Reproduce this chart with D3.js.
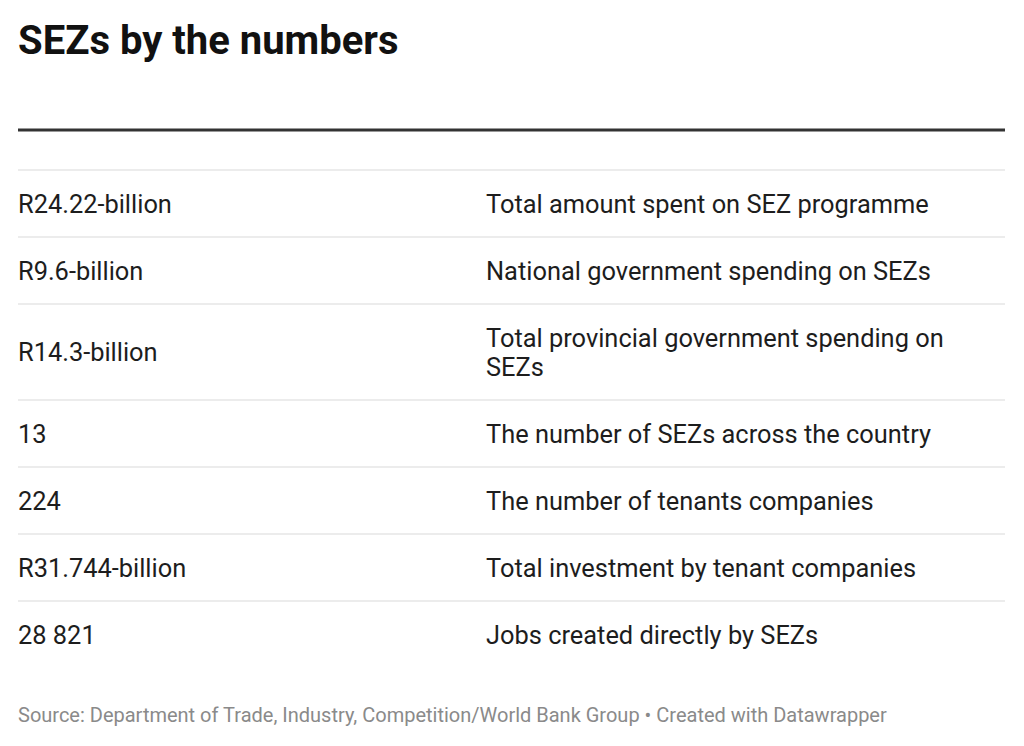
<!DOCTYPE html>
<html>
<head>
<meta charset="utf-8">
<script src="https://cdn.jsdelivr.net/npm/d3@7"></script>
<style>
  body { margin: 0; background: #fff; font-family: Roboto, sans-serif; }
</style>
</head>
<body>
<svg id="chart" width="1024" height="746"></svg>
<script>
// table data
var figures = ["R24.22-billion", "R9.6-billion", "R14.3-billion", "13", "224", "R31.744-billion", "28 821"];
var descriptions = [
  "Total amount spent on SEZ programme",
  "National government spending on SEZs",
  "Total provincial government spending on SEZs",
  "The number of SEZs across the country",
  "The number of tenants companies",
  "Total investment by tenant companies",
  "Jobs created directly by SEZs"
];
var title = "SEZs by the numbers";
var source = "Source: Department of Trade, Industry, Competition/World Bank Group • Created with Datawrapper";

function main() {
  var svg = d3.select("#chart"),
      left = 18,
      right = 1005,
      col2 = 486,
      wrapWidth = right - col2,
      fontSize = 25.4,
      lineH = 29,
      rowPad = 67 - lineH,
      tableTop = 170;

  // Title
  svg.append("text")
    .attr("x", left)
    .attr("y", 54)
    .attr("font-size", "40px")
    .attr("font-weight", 700)
    .attr("fill", "#111")
    .text(title);

  // header rule
  svg.append("line")
    .attr("x1", left).attr("x2", right)
    .attr("y1", 130).attr("y2", 130)
    .attr("stroke", "#333")
    .attr("stroke-width", 3);

  svg.append("line")
    .attr("x1", left).attr("x2", right)
    .attr("y1", tableTop).attr("y2", tableTop)
    .attr("stroke", "#e6e6e6")
    .attr("stroke-width", 1.5);

  // measure + wrap description text
  var probe = svg.append("text").attr("font-size", fontSize + "px");
  function wrap(str) {
    var words = str.split(" "), lines = [], cur = "";
    words.forEach(function(w) {
      var test = cur ? cur + " " + w : w;
      probe.text(test);
      if (probe.node().getComputedTextLength() > wrapWidth - 12 && cur) {
        lines.push(cur);
        cur = w;
      } else {
        cur = test;
      }
    });
    lines.push(cur);
    return lines;
  }
  var rows = figures.map(function(f, i) {
    return { figure: f, lines: wrap(descriptions[i]) };
  });
  probe.remove();

  var y = tableTop;
  rows.forEach(function(r) {
    r.y0 = y;
    r.h = rowPad + r.lines.length * lineH;
    y += r.h;
  });

  var g = svg.selectAll(".row")
    .data(rows)
    .enter().append("g")
    .attr("class", "row")
    .attr("transform", function(d) { return "translate(0," + d.y0 + ")"; });

  g.append("text")
    .attr("x", left)
    .attr("y", function(d) { return d.h / 2 + 9; })
    .attr("font-size", fontSize + "px")
    .attr("fill", "#1d1d1d")
    .text(function(d) { return d.figure; });

  g.append("text")
    .attr("font-size", fontSize + "px")
    .attr("fill", "#1d1d1d")
    .each(function(d) {
      var t = d3.select(this);
      var startY = d.h / 2 - (d.lines.length - 1) * lineH / 2 + 9;
      d.lines.forEach(function(l, k) {
        t.append("tspan")
          .attr("x", col2)
          .attr("y", startY + k * lineH)
          .text(l);
      });
    });

  // row separators (not below the last row)
  g.filter(function(d, i) { return i < rows.length - 1; })
    .append("line")
    .attr("x1", left).attr("x2", right)
    .attr("y1", function(d) { return d.h; })
    .attr("y2", function(d) { return d.h; })
    .attr("stroke", "#e6e6e6")
    .attr("stroke-width", 1.5);

  // Source note
  svg.append("text")
    .attr("x", left)
    .attr("y", 722)
    .attr("font-size", "20px")
    .attr("fill", "#8a8a8a")
    .text(source);
}
main();
</script>
</body>
</html>
